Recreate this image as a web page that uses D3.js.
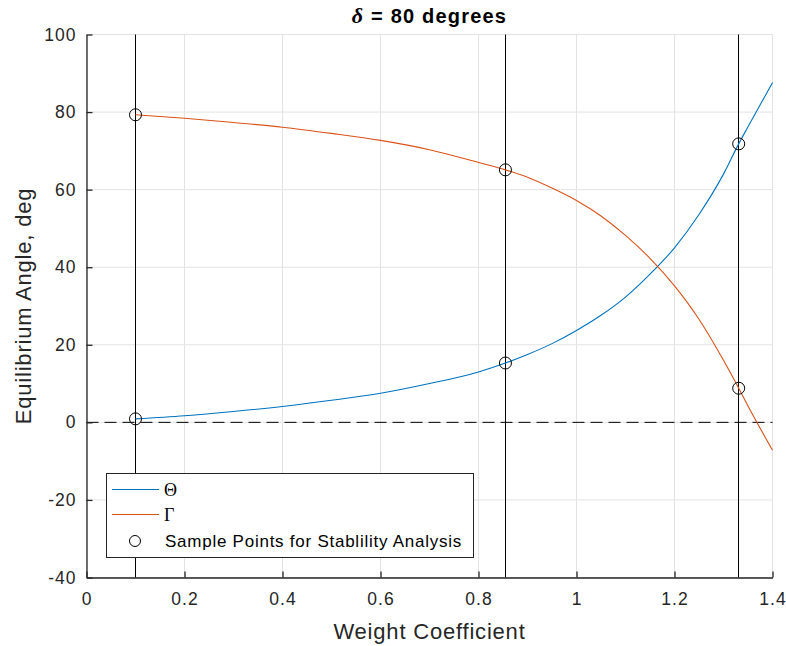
<!DOCTYPE html>
<html>
<head>
<meta charset="utf-8">
<script src="https://cdnjs.cloudflare.com/ajax/libs/d3/7.8.5/d3.min.js"></script>
<style>
body { margin: 0; background: #fff; }
text { font-family: "Liberation Sans", Arial, sans-serif; }
</style>
</head>
<body>
<script>
// weight coefficient samples
var xs = [0.1, 0.2, 0.3, 0.4, 0.5, 0.6, 0.7, 0.8, 0.855, 0.9, 0.95, 1.0, 1.05, 1.1, 1.15, 1.2, 1.25, 1.3, 1.331, 1.35, 1.4];
var theta = [0.9, 1.7, 2.8, 4.1, 5.7, 7.5, 10.0, 13.0, 15.3, 17.5, 20.3, 23.7, 27.6, 32.3, 38.2, 45.0, 53.6, 64.0, 71.8, 76.2, 87.6];
var gamma = [79.3, 78.4, 77.3, 76.1, 74.5, 72.7, 70.3, 67.0, 65.1, 63.2, 60.4, 57.2, 53.2, 48.2, 42.3, 35.2, 26.6, 16.0, 8.8, 4.2, -7.2];
// sample points for stability analysis
var sampleX = [0.1, 0.1, 0.855, 0.855, 1.331, 1.331];
var sampleY = [79.3, 0.9, 65.1, 15.3, 71.8, 8.8];
var xTicks = [0, 0.2, 0.4, 0.6, 0.8, 1, 1.2, 1.4];
var yTicks = [-40, -20, 0, 20, 40, 60, 80, 100];

(function() {
var width = 786, height = 646;
var mLeft = 86.5, mRight = 772.5, mTop = 34.5, mBottom = 577.5;
var axisColor = "#262626";

var svg = d3.select("body").append("svg").attr("width", width).attr("height", height);

var x = d3.scaleLinear().domain([0, 1.4]).range([mLeft, mRight]);
var y = d3.scaleLinear().domain([-40, 100]).range([mBottom, mTop]);

// grid
svg.append("g").selectAll("line").data(xTicks).enter().append("line")
    .attr("x1", function(d) { return x(d); }).attr("x2", function(d) { return x(d); })
    .attr("y1", mTop).attr("y2", mBottom)
    .attr("stroke", "#e3e3e3").attr("stroke-width", 1);
svg.append("g").selectAll("line").data(yTicks).enter().append("line")
    .attr("y1", function(d) { return y(d); }).attr("y2", function(d) { return y(d); })
    .attr("x1", mLeft).attr("x2", mRight)
    .attr("stroke", "#e3e3e3").attr("stroke-width", 1);

// zero line
svg.append("line")
    .attr("x1", mLeft).attr("x2", mRight)
    .attr("y1", y(0)).attr("y2", y(0))
    .attr("stroke", "#000").attr("stroke-width", 1)
    .attr("stroke-dasharray", "12,6");

// vertical lines at sample weights
svg.append("g").selectAll("line").data([0.1, 0.855, 1.331]).enter().append("line")
    .attr("x1", function(d) { return Math.round(x(d) - 0.5) + 0.5; })
    .attr("x2", function(d) { return Math.round(x(d) - 0.5) + 0.5; })
    .attr("y1", mTop).attr("y2", mBottom)
    .attr("stroke", "#000").attr("stroke-width", 1);

var line = function(vals) {
    return d3.line()
        .x(function(d, i) { return x(xs[i]); })
        .y(function(d) { return y(d); })
        .curve(d3.curveMonotoneX)(vals);
};

svg.append("path").attr("d", line(theta))
    .attr("fill", "none").attr("stroke", "#0072BD").attr("stroke-width", 1.1);
svg.append("path").attr("d", line(gamma))
    .attr("fill", "none").attr("stroke", "#D95319").attr("stroke-width", 1.1);

svg.append("g").selectAll("circle").data(sampleX).enter().append("circle")
    .attr("cx", function(d) { return x(d); })
    .attr("cy", function(d, i) { return y(sampleY[i]); })
    .attr("r", 6)
    .attr("fill", "none").attr("stroke", "#000").attr("stroke-width", 1);

// axes
var xAxis = svg.append("g")
    .attr("transform", "translate(0," + mBottom + ")")
    .call(d3.axisBottom(x).tickValues(xTicks).tickSizeInner(-6).tickSizeOuter(0).tickPadding(15)
        .tickFormat(function(d) { return String(d); }));
var yAxis = svg.append("g")
    .attr("transform", "translate(" + mLeft + ",0)")
    .call(d3.axisLeft(y).tickValues(yTicks).tickSizeInner(-6).tickSizeOuter(0).tickPadding(10)
        .tickFormat(function(d) { return String(d); }));

[xAxis, yAxis].forEach(function(a) {
    a.select(".domain").attr("stroke", axisColor).attr("stroke-width", 1.3);
    a.selectAll(".tick line").attr("stroke", axisColor).attr("stroke-width", 1.3);
    a.selectAll(".tick text")
        .attr("fill", axisColor)
        .style("font-size", "17.5px")
        .style("letter-spacing", "1px")
        .style("font-family", "'Liberation Sans', Arial, sans-serif");
});

// labels
svg.append("text")
    .attr("x", (mLeft + mRight) / 2).attr("y", 639)
    .attr("text-anchor", "middle")
    .attr("fill", axisColor)
    .style("font-size", "22px")
    .style("letter-spacing", "0.8px")
    .text("Weight Coefficient");

svg.append("text")
    .attr("transform", "translate(31," + ((mTop + mBottom) / 2) + ") rotate(-90)")
    .attr("text-anchor", "middle")
    .attr("fill", axisColor)
    .style("font-size", "22px")
    .style("letter-spacing", "0.8px")
    .text("Equilibrium Angle, deg");

var title = svg.append("text")
    .attr("x", (mLeft + mRight) / 2).attr("y", 23)
    .attr("text-anchor", "middle")
    .style("font-size", "20px")
    .style("font-weight", "bold")
    .style("letter-spacing", "1.2px")
    .attr("fill", "#000");
title.append("tspan").style("font-family", "'Liberation Serif', 'Times New Roman', serif")
    .style("font-style", "italic").style("font-size", "22px").text("δ");
title.append("tspan").text(" = 80 degrees");

// legend
var lg = svg.append("g");
lg.append("rect")
    .attr("x", 106.5).attr("y", 473.5).attr("width", 367).attr("height", 84)
    .attr("fill", "#fff").attr("stroke", "#262626").attr("stroke-width", 1);

var legendNames = ["Θ", "Γ"];
var legendColors = ["#0072BD", "#D95319"];
legendNames.forEach(function(name, i) {
    var yy = 489.5 + i * 25;
    lg.append("line")
        .attr("x1", 112).attr("x2", 159).attr("y1", yy).attr("y2", yy)
        .attr("stroke", legendColors[i]).attr("stroke-width", 1.1);
    lg.append("text")
        .attr("x", 164).attr("y", yy + 6)
        .style("font-family", "'Liberation Serif', 'Times New Roman', serif")
        .style("font-size", "18px")
        .attr("fill", "#000")
        .text(name);
});
lg.append("circle")
    .attr("cx", 135).attr("cy", 541).attr("r", 5.5)
    .attr("fill", "none").attr("stroke", "#000").attr("stroke-width", 1);
lg.append("text")
    .attr("x", 165).attr("y", 547)
    .style("font-size", "17px")
    .style("letter-spacing", "0.75px")
    .attr("fill", "#000")
    .text("Sample Points for Stablility Analysis");
})();
</script>
</body>
</html>
